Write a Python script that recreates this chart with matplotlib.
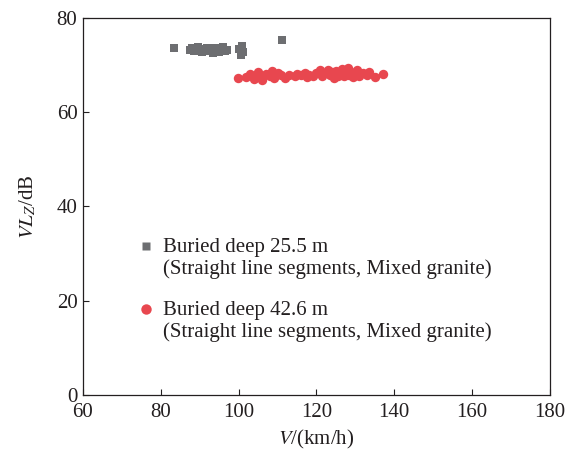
import matplotlib.pyplot as plt

plt.rcParams['font.family'] = 'Liberation Serif'
plt.rcParams['mathtext.fontset'] = 'stix'

# burial depth 25.5 m: speed (km/h) and vibration level (dB)
v_25 = [83.5, 87.5, 88.0, 88.5, 89.0, 89.5, 90.0, 90.5, 91.0, 91.5, 92.0,
        92.5, 93.0, 93.5, 94.0, 94.5, 95.0, 95.5, 96.0, 96.5, 97.0,
        100.2, 100.5, 101.0, 101.2, 100.8, 111.2]
vl_25 = [73.6, 73.2, 73.6, 72.9, 73.4, 73.8, 73.1, 72.8, 73.5, 73.0, 73.6,
         72.9, 73.3, 72.6, 73.7, 73.0, 72.7, 73.4, 73.9, 72.9, 73.3,
         73.5, 72.2, 74.0, 72.7, 73.1, 75.4]

# burial depth 42.6 m
v_42 = [99.8, 102.0, 103.0, 104.0, 105.0, 105.5, 106.0, 107.0, 108.0, 108.5,
        109.0, 110.0, 111.0, 112.0, 113.0, 114.5, 115.0, 116.0, 117.0, 117.5,
        118.0, 119.0, 120.0, 121.0, 121.5, 122.0, 123.0, 123.5, 124.0, 124.5,
        125.0, 125.5, 126.0, 126.5, 127.0, 127.5, 128.0, 128.5, 129.0, 129.5,
        130.0, 130.5, 131.0, 132.0, 133.0, 133.5, 135.0, 137.0]
vl_42 = [67.3, 67.5, 68.2, 67.0, 68.6, 67.4, 66.9, 68.1, 67.6, 68.8,
         67.2, 68.3, 67.8, 67.3, 68.0, 67.6, 68.2, 67.9, 68.4, 67.5,
         68.0, 67.7, 68.3, 68.9, 67.6, 68.4, 69.0, 67.9, 68.5, 67.3,
         68.8, 67.7, 68.2, 69.1, 67.6, 68.5, 69.3, 67.9, 68.6, 67.4,
         68.1, 68.9, 67.7, 68.4, 67.8, 68.6, 67.5, 68.2]

labels = ['Buried deep 25.5 m\n(Straight line segments, Mixed granite)',
          'Buried deep 42.6 m\n(Straight line segments, Mixed granite)']
colors = ['#6d6e71', '#e8474f']
text_col = '#231f20'
fs = 15

fig = plt.figure(figsize=(5.77, 4.57), dpi=100)
ax = fig.add_axes([0.1438, 0.1357, 0.8092, 0.8249])

ax.scatter(v_25, vl_25, marker='s', s=28, color=colors[0], linewidths=0)
ax.scatter(v_42, vl_42, marker='o', s=46, color=colors[1], linewidths=0)

ax.set_xlim(60, 180)
ax.set_ylim(0, 80)
ax.set_xticks(range(60, 181, 20))
ax.set_yticks(range(0, 81, 20))
ax.tick_params(direction='in', length=4, labelsize=fs, color=text_col,
               labelcolor=text_col)
ax.tick_params(axis='x', pad=6)
ax.tick_params(axis='y', pad=4)
for sp in ax.spines.values():
    sp.set_color(text_col)
    sp.set_linewidth(0.9)

ax.set_xlabel('$V$/(km/h)', fontsize=fs, color=text_col, labelpad=4)
ax.set_ylabel('$VL_Z$/dB', fontsize=fs, color=text_col, labelpad=13)

# key: marker beside the first line of each two-line label
key_y = [0.395, 0.228]
for lab, c, m, ms, y in zip(labels, colors, ['s', 'o'], [6, 7.5], key_y):
    ax.plot([0.135], [y], marker=m, ms=ms, color=c, mec='none',
            transform=ax.transAxes, clip_on=False)
    ax.text(0.171, y + 0.022, lab, transform=ax.transAxes, fontsize=fs,
            color=text_col, va='top', ha='left', linespacing=1.15)

fig.savefig('out.png', dpi=100)
